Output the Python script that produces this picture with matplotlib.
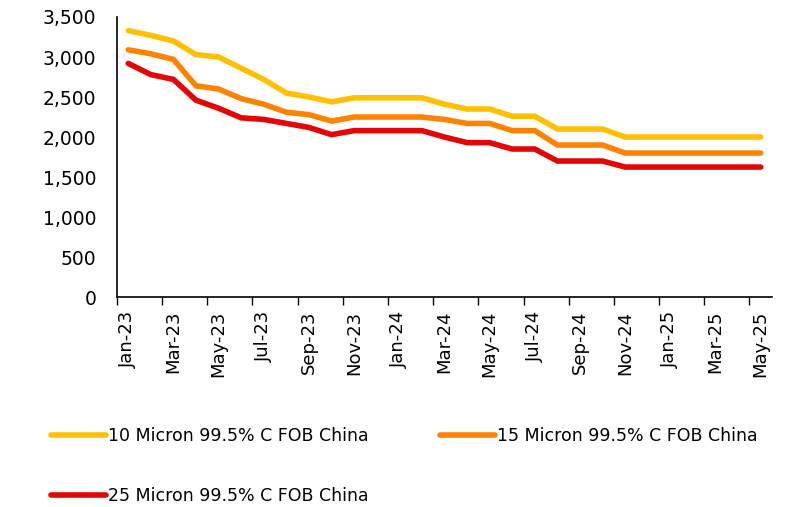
import numpy as np
import pandas as pd
import matplotlib
matplotlib.use("Agg")
import matplotlib.pyplot as plt

# monthly prices, Jan-23 .. May-25
months = pd.date_range("2023-01-01", "2025-05-01", freq="MS").strftime("%b-%y").tolist()

micron_10 = [3330, 3270, 3200, 3030, 3000, 2860, 2720, 2550, 2500, 2440,
             2490, 2490, 2490, 2490, 2410, 2350, 2350, 2260, 2260, 2100,
             2100, 2100, 2000, 2000, 2000, 2000, 2000, 2000, 2000]
micron_15 = [3090, 3040, 2970, 2640, 2600, 2480, 2410, 2310, 2280, 2200,
             2250, 2250, 2250, 2250, 2220, 2170, 2170, 2080, 2080, 1900,
             1900, 1900, 1800, 1800, 1800, 1800, 1800, 1800, 1800]
micron_25 = [2920, 2780, 2720, 2460, 2360, 2240, 2220, 2170, 2120, 2030,
             2080, 2080, 2080, 2080, 2000, 1930, 1930, 1850, 1850, 1700,
             1700, 1700, 1625, 1625, 1625, 1625, 1625, 1625, 1625]

series = [
    ("10 Micron 99.5% C FOB China", micron_10, "#FFC000"),
    ("15 Micron 99.5% C FOB China", micron_15, "#FF8300"),
    ("25 Micron 99.5% C FOB China", micron_25, "#E50505"),
]

plt.rcParams['font.family'] = ['DejaVu Sans']

fig = plt.figure(figsize=(7.93, 5.07), dpi=100)
ax = fig.add_axes([0.1475, 0.414, 0.826, 0.5525])

x = np.arange(len(months))
lines = []
for name, vals, col in series:
    ln, = ax.plot(x, vals, color=col, lw=4.0, label=name, solid_capstyle="round",
                  solid_joinstyle="miter")
    lines.append(ln)

ax.set_ylim(0, 3500)
ax.set_yticks(range(0, 3501, 500))
ax.set_yticklabels([f"{v:,}" for v in range(0, 3501, 500)], fontsize=13.5)
ax.tick_params(axis="y", length=0, pad=15)

ax.set_xlim(-0.5, len(months) - 0.5)
# ticks between categories, labels on every other month
ax.set_xticks(np.arange(-0.5, len(months), 2), minor=False)
ax.set_xticklabels([])
ax.set_xticks(x[::2], minor=True)
ax.set_xticklabels(months[::2], minor=True, rotation=90, fontsize=13)
ax.tick_params(axis="x", which="major", length=6, width=1, direction="out")
ax.tick_params(axis="x", which="minor", length=0, pad=10)

for s in ["top", "right"]:
    ax.spines[s].set_visible(False)
ax.spines["left"].set_linewidth(1.2)
ax.spines["bottom"].set_linewidth(1.2)

# legend fills row by row in the reference
order = [lines[0], lines[2], lines[1]]
fig.legend(order, [l.get_label() for l in order], loc="upper left",
           bbox_to_anchor=(0.055, 0.171), ncol=2,
           frameon=False, fontsize=12.5, handlelength=3.2, handletextpad=0.1,
           columnspacing=4.1, labelspacing=2.4, borderaxespad=0)

fig.savefig("out.png", dpi=100)
